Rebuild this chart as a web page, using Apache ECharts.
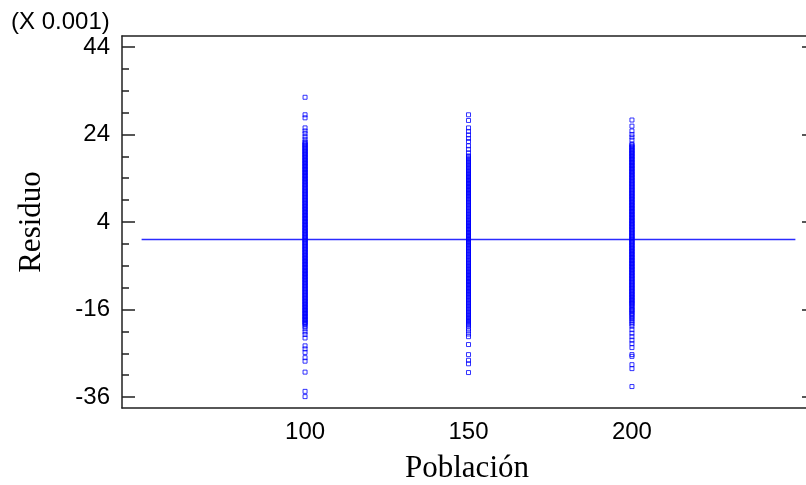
<!DOCTYPE html>
<html>
<head>
<meta charset="utf-8">
<script src="https://cdn.jsdelivr.net/npm/echarts@6/dist/echarts.min.js"></script>
<style>
  html, body { margin: 0; padding: 0; background: #ffffff; }
  #chart { width: 806px; height: 485px; }
</style>
</head>
<body>
<div id="chart"></div>
<script>
// Residuals (in thousandths) for each population level
const poblaciones = [100, 150, 200];

const res100 = [
  32.5, 28.5, 27.8, 25.5, 24.8, 24.2, 23.5, 22.9,
  22.3, 22.1, 21.8, 21.6, 21.4, 21.1, 20.9, 20.7, 20.4, 20.2, 20.0, 19.7,
  19.5, 19.3, 19.0, 18.8, 18.6, 18.3, 18.1, 17.9, 17.6, 17.4, 17.2, 16.9,
  16.7, 16.5, 16.2, 16.0, 15.8, 15.5, 15.3, 15.1, 14.8, 14.6, 14.4, 14.1,
  13.9, 13.7, 13.4, 13.2, 13.0, 12.7, 12.5, 12.3, 12.0, 11.8, 11.6, 11.3,
  11.1, 10.9, 10.6, 10.4, 10.2, 9.9, 9.7, 9.5, 9.2, 9.0, 8.8, 8.5, 8.3,
  8.1, 7.8, 7.6, 7.4, 7.1, 6.9, 6.7, 6.4, 6.2, 6.0, 5.7, 5.5, 5.3, 5.0,
  4.8, 4.6, 4.3, 4.1, 3.9, 3.6, 3.4, 3.2, 2.9, 2.7, 2.5, 2.2, 2.0, 1.8,
  1.5, 1.3, 1.1, 0.8, 0.6, 0.4, 0.1, -0.1, -0.3, -0.6, -0.8, -1.0, -1.3,
  -1.5, -1.7, -2.0, -2.2, -2.4, -2.7, -2.9, -3.1, -3.4, -3.6, -3.8, -4.1,
  -4.3, -4.5, -4.8, -5.0, -5.2, -5.5, -5.7, -5.9, -6.2, -6.4, -6.6, -6.9,
  -7.1, -7.3, -7.6, -7.8, -8.0, -8.3, -8.5, -8.7, -9.0, -9.2, -9.4, -9.7,
  -9.9, -10.1, -10.4, -10.6, -10.8, -11.1, -11.3, -11.5, -11.8, -12.0,
  -12.2, -12.5, -12.7, -12.9, -13.2, -13.4, -13.6, -13.9, -14.1, -14.3,
  -14.6, -14.8, -15.0, -15.3, -15.5, -15.7, -16.0, -16.2, -16.4, -16.7,
  -16.9, -17.1, -17.4, -17.6, -17.8, -18.1, -18.3, -18.5, -18.8, -19.0,
  -19.2, -19.5,
  -19.9, -20.4, -21.1, -21.7, -22.5,
  -24.3, -25.0, -25.8, -27.0, -27.8, -30.3, -34.7, -35.9
];

const res150 = [
  28.5, 27.2, 25.5, 24.7, 23.9, 23.1, 22.4, 21.4, 20.6, 19.8,
  19.1, 18.9, 18.6, 18.4, 18.2, 17.9, 17.7, 17.5, 17.2, 17.0, 16.8, 16.5,
  16.3, 16.1, 15.8, 15.6, 15.4, 15.1, 14.9, 14.7, 14.4, 14.2, 14.0, 13.7,
  13.5, 13.3, 13.0, 12.8, 12.6, 12.3, 12.1, 11.9, 11.6, 11.4, 11.2, 10.9,
  10.7, 10.5, 10.2, 10.0, 9.8, 9.5, 9.3, 9.1, 8.8, 8.6, 8.4, 8.1, 7.9,
  7.7, 7.4, 7.2, 7.0, 6.7, 6.5, 6.3, 6.0, 5.8, 5.6, 5.3, 5.1, 4.9, 4.6,
  4.4, 4.2, 3.9, 3.7, 3.5, 3.2, 3.0, 2.8, 2.5, 2.3, 2.1, 1.8, 1.6, 1.4,
  1.1, 0.9, 0.7, 0.4, 0.2, 0.0, -0.3, -0.5, -0.7, -1.0, -1.2, -1.4, -1.7,
  -1.9, -2.1, -2.4, -2.6, -2.8, -3.1, -3.3, -3.5, -3.8, -4.0, -4.2, -4.5,
  -4.7, -4.9, -5.2, -5.4, -5.6, -5.9, -6.1, -6.3, -6.6, -6.8, -7.0, -7.3,
  -7.5, -7.7, -8.0, -8.2, -8.4, -8.7, -8.9, -9.1, -9.4, -9.6, -9.8, -10.1,
  -10.3, -10.5, -10.8, -11.0, -11.2, -11.5, -11.7, -11.9, -12.2, -12.4,
  -12.6, -12.9, -13.1, -13.3, -13.6, -13.8, -14.0, -14.3, -14.5, -14.7,
  -15.0, -15.2, -15.4, -15.7, -15.9, -16.1, -16.4, -16.6, -16.8, -17.1,
  -17.3, -17.5, -17.8, -18.0, -18.2, -18.5, -18.7, -18.9, -19.2, -19.5,
  -19.8,
  -20.4, -20.9, -21.6, -22.2,
  -24.0, -26.3, -27.6, -28.4, -30.4
];

const res200 = [
  27.3, 25.9, 24.8, 24.0, 23.4, 22.7,
  21.8, 21.6, 21.3, 21.1, 20.9, 20.6, 20.4, 20.2, 19.9, 19.7, 19.5, 19.2,
  19.0, 18.8, 18.5, 18.3, 18.1, 17.8, 17.6, 17.4, 17.1, 16.9, 16.7, 16.4,
  16.2, 16.0, 15.7, 15.5, 15.3, 15.0, 14.8, 14.6, 14.3, 14.1, 13.9, 13.6,
  13.4, 13.2, 12.9, 12.7, 12.5, 12.2, 12.0, 11.8, 11.5, 11.3, 11.1, 10.8,
  10.6, 10.4, 10.1, 9.9, 9.7, 9.4, 9.2, 9.0, 8.7, 8.5, 8.3, 8.0, 7.8, 7.6,
  7.3, 7.1, 6.9, 6.6, 6.4, 6.2, 5.9, 5.7, 5.5, 5.2, 5.0, 4.8, 4.5, 4.3,
  4.1, 3.8, 3.6, 3.4, 3.1, 2.9, 2.7, 2.4, 2.2, 2.0, 1.7, 1.5, 1.3, 1.0,
  0.8, 0.6, 0.3, 0.1, -0.1, -0.4, -0.6, -0.8, -1.1, -1.3, -1.5, -1.8,
  -2.0, -2.2, -2.5, -2.7, -2.9, -3.2, -3.4, -3.6, -3.9, -4.1, -4.3, -4.6,
  -4.8, -5.0, -5.3, -5.5, -5.7, -6.0, -6.2, -6.4, -6.7, -6.9, -7.1, -7.4,
  -7.6, -7.8, -8.1, -8.3, -8.5, -8.8, -9.0, -9.2, -9.5, -9.7, -9.9, -10.2,
  -10.4, -10.6, -10.9, -11.1, -11.3, -11.6, -11.8, -12.0, -12.3, -12.5,
  -12.7, -13.0, -13.2, -13.4, -13.7, -13.9, -14.1, -14.4, -14.6, -14.8,
  -15.1, -15.4, -15.7, -16.0, -16.2, -16.5, -16.8, -17.1, -17.4, -17.8,
  -18.1, -18.5, -18.9, -19.3,
  -19.8, -20.6, -21.4, -22.2, -23.0, -23.8, -24.7,
  -26.3, -26.7, -28.6, -29.5, -33.6
];

// Zero-residual reference line
const lineX = [50, 250];
const lineY = [0, 0];

// Axis tick values
const xTickLabels = [100, 150, 200];
const yMajorTicks = [-36, -16, 4, 24, 44];
const yMinorTicks = [-31, -26, -21, -11, -6, -1, 9, 14, 19, 29, 34, 39];

const resByPob = [res100, res150, res200];

const axisColor = '#202020';
const markColor = '#0000ff';
const labelFont = { fontFamily: 'Liberation Sans, Arial, sans-serif', fontSize: 24, color: '#000' };

const chart = echarts.init(document.getElementById('chart'), null, { renderer: 'canvas' });

const scatterSeries = poblaciones.map((p, i) => ({
  type: 'scatter',
  xAxisIndex: 0,
  yAxisIndex: 0,
  symbol: 'rect',
  symbolSize: 4,
  itemStyle: { color: 'rgba(0,0,0,0)', borderColor: markColor, borderWidth: 1 },
  emphasis: { disabled: true },
  data: resByPob[i].map(v => [p, v]),
  z: 3
}));

chart.setOption({
  animation: false,
  backgroundColor: '#ffffff',
  grid: { left: 122, top: 36, width: 693, height: 372, containLabel: false, outerBoundsMode: 'none' },
  xAxis: [
    {
      type: 'value', position: 'bottom', min: 44, max: 256,
      axisLine: { show: true, onZero: false, lineStyle: { color: axisColor, width: 1.5 } },
      axisTick: { show: false },
      splitLine: { show: false },
      axisLabel: Object.assign({ customValues: xTickLabels, margin: 12 }, labelFont)
    },
    {
      type: 'value', position: 'top', min: 44, max: 256,
      axisLine: { show: true, onZero: false, lineStyle: { color: axisColor, width: 1.5 } },
      axisTick: { show: false }, axisLabel: { show: false }, splitLine: { show: false }
    }
  ],
  yAxis: [
    {
      type: 'value', position: 'left', min: -38.5, max: 46.5,
      axisLine: { show: true, onZero: false, lineStyle: { color: axisColor, width: 1.5 } },
      axisTick: { show: true, inside: true, length: 13, customValues: yMajorTicks,
        lineStyle: { color: axisColor, width: 1.5 } },
      splitLine: { show: false },
      axisLabel: Object.assign({ customValues: yMajorTicks, margin: 12 }, labelFont)
    },
    {
      type: 'value', position: 'left', min: -38.5, max: 46.5,
      axisLine: { show: false, onZero: false },
      axisTick: { show: true, inside: true, length: 7, customValues: yMinorTicks,
        lineStyle: { color: axisColor, width: 1.5 } },
      splitLine: { show: false }, axisLabel: { show: false }
    },
    {
      type: 'value', position: 'right', min: -38.5, max: 46.5,
      axisLine: { show: true, onZero: false, lineStyle: { color: axisColor, width: 1.5 } },
      axisTick: { show: true, inside: true, length: 13, customValues: yMajorTicks,
        lineStyle: { color: axisColor, width: 1.5 } },
      splitLine: { show: false }, axisLabel: { show: false }
    }
  ],
  graphic: [
    {
      type: 'text', left: 11, top: 10,
      style: { text: '(X 0.001)', font: '24px "Liberation Sans", Arial, sans-serif', fill: '#000' }
    },
    {
      type: 'text', x: 32, y: 222, rotation: Math.PI / 2,
      style: { text: 'Residuo', font: '31px "Liberation Serif", "Times New Roman", serif',
        fill: '#000', align: 'center', verticalAlign: 'middle' }
    },
    {
      type: 'text', x: 467, y: 469,
      style: { text: 'Población', font: '31px "Liberation Serif", "Times New Roman", serif',
        fill: '#000', align: 'center', verticalAlign: 'middle' }
    }
  ],
  series: scatterSeries.concat([{
    type: 'line',
    xAxisIndex: 0,
    yAxisIndex: 0,
    showSymbol: false,
    symbol: 'none',
    color: markColor,
    itemStyle: { color: markColor },
    lineStyle: { color: '#2b2bff', width: 1.3 },
    emphasis: { disabled: true },
    data: lineX.map((x, i) => [x, lineY[i]]),
    z: 2
  }])
});
</script>
</body>
</html>
